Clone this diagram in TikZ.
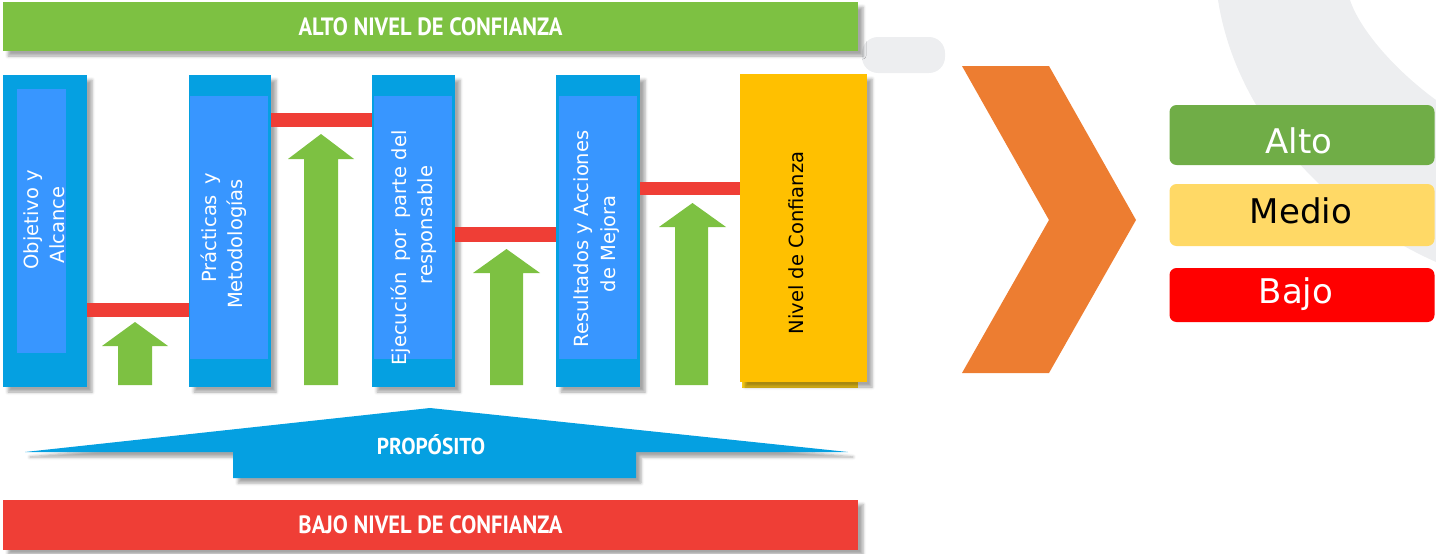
\documentclass[tikz,border=0pt]{standalone}
\usepackage{fontspec}
\setmainfont{DejaVu Sans}
\newfontfamily\bannerfont{PT Sans}
\usetikzlibrary{shadows.blur}
\definecolor{topgreen}{HTML}{7DC142}
\definecolor{barred}{HTML}{EF3E36}
\definecolor{outblue}{HTML}{05A0E1}
\definecolor{inblue}{HTML}{3896FF}
\definecolor{ygold}{HTML}{FFC000}
\definecolor{ylight}{HTML}{FFD21A}
\definecolor{chev}{HTML}{ED7D31}
\definecolor{lgreen}{HTML}{70AD47}
\definecolor{lyellow}{HTML}{FFD966}
\definecolor{lred}{HTML}{FF0000}
\definecolor{bggray}{HTML}{EDEEF0}
\tikzset{
  shad/.style={blur shadow={shadow xshift=5pt, shadow yshift=-5pt, shadow opacity=35, shadow blur radius=3pt}},
  banner/.style={inner sep=0pt, minimum width=855pt, minimum height=49pt, shad,
     text=white, font=\bannerfont\bfseries\fontsize{25}{25}\selectfont},
  outbox/.style={fill=outblue, inner sep=0pt, minimum height=312pt, shad},
  inbox/.style={fill=inblue, inner sep=0pt},
  lbl/.style={rotate=90, text=white, inner sep=0pt, font=\fontsize{19.5}{25}\selectfont},
  redbar/.style={draw=barred, line width=14pt},
  garrowfill/.style={fill=topgreen},
  legend/.style={rounded corners=7pt, inner sep=0pt, minimum width=265pt},
  legtext/.style={anchor=base, inner sep=0pt, font=\fontsize{34}{34}\selectfont}
}
\begin{document}
\begin{tikzpicture}[x=1pt,y=-1pt]
\useasboundingbox (0,0) rectangle (1436,554);
% faint background shapes
\fill[bggray] (1218,0) .. controls (1235,110) and (1320,210) .. (1436,262) -- (1436,100) .. controls (1395,70) and (1360,30) .. (1350,0) -- cycle;
\fill[bggray, rounded corners=16pt] (862,37) rectangle (945,73);
% banners
\node[banner, fill=topgreen] (top) at (430.5,26.5) {\scalebox{0.9}[1]{ALTO NIVEL DE CONFIANZA}};
\node[banner, fill=barred, minimum height=50pt] (bottom) at (430.5,524.5) {\scalebox{0.9}[1]{BAJO NIVEL DE CONFIANZA}};
% columns
\node[outbox, minimum width=84pt] (c1) at (45,231) {};
\node[inbox, minimum width=49pt, minimum height=264pt] (i1) at (41.5,221) {};
\node[outbox, minimum width=82pt] (c2) at (230,231) {};
\node[inbox, minimum width=78pt, minimum height=263pt] (i2) at (229,227.5) {};
\node[outbox, minimum width=83pt] (c3) at (413.5,231) {};
\node[inbox, minimum width=78pt, minimum height=263pt] (i3) at (413,227.5) {};
\node[outbox, minimum width=84pt] (c4) at (598,231) {};
\node[inbox, minimum width=78pt, minimum height=263pt] (i4) at (598,227.5) {};
\fill[ylight] (742,380) rectangle (858,388);
\node[fill=ygold, inner sep=0pt, minimum width=127pt, minimum height=308pt, shad] (c5) at (803.5,228) {};
% labels
\node[lbl] (l1a) at (33,220) {Objetivo y};
\node[lbl] (l1b) at (57,225) {Alcance};
\node[lbl] (l2a) at (211,228) {Prácticas\hspace{4pt} y};
\node[lbl] (l2b) at (237,244) {Metodologías};
\node[lbl] (l3a) at (401,248) {Ejecución\hspace{4.5pt} por\hspace{4.5pt} parte del};
\node[lbl] (l3b) at (427,225) {responsable};
\node[lbl] (l4a) at (583,239) {Resultados y Acciones};
\node[lbl] (l4b) at (610,244) {de Mejora};
\node[lbl, text=black] (l5) at (796,243) {Nivel de Confianza};
% red connectors
\coordinate (r1) at (0,310);
\coordinate (r2) at (0,120);
\coordinate (r3) at (0,234.5);
\coordinate (r4) at (0,188.5);
\draw[redbar] (c1.east |- r1) -- (c2.west |- r1);
\draw[redbar] (c2.east |- r2) -- (c3.west |- r2);
\draw[redbar, line width=15pt] (c3.east |- r3) -- (c4.west |- r3);
\draw[redbar, line width=13pt] (c4.east |- r4) -- (c5.west |- r4);
% green arrows
\fill[garrowfill] (118,385) -- (118,346) -- (102,346) -- (135,322) -- (168,346) -- (152,346) -- (152,385) -- cycle;
\fill[garrowfill] (304,385) -- (304,159) -- (288,159) -- (321,134) -- (354,159) -- (338,159) -- (338,385) -- cycle;
\fill[garrowfill] (490,385) -- (490,273) -- (473,273) -- (506.5,249) -- (540,273) -- (523,273) -- (523,385) -- cycle;
\fill[garrowfill] (675,385) -- (675,227) -- (659,227) -- (692.5,203) -- (726,227) -- (708,227) -- (708,385) -- cycle;
% proposito
\fill[outblue, shad] (25,452) -- (430,408) -- (848,452) -- (636,452) -- (636,478) -- (233,478) -- (233,452) -- cycle;
\node[text=white, inner sep=0pt, font=\bannerfont\bfseries\fontsize{23}{23}\selectfont] (prop) at (431,445) {\scalebox{0.93}[1]{PROPÓSITO}};
% chevron
\fill[chev] (962,66) -- (1049,66) -- (1136,220) -- (1049,373) -- (962,373) -- (1049,220) -- cycle;
% legend
\node[legend, fill=lgreen, minimum height=60pt] (alto) at (1302,135) {};
\node[legend, fill=lyellow, minimum height=62pt] (medio) at (1302,215) {};
\node[legend, fill=lred, minimum height=54pt] (bajo) at (1302,295) {};
\node[legtext, text=white] (talto) at (1299,153) {Alto};
\node[legtext, text=black] (tmedio) at (1301,223) {Medio};
\node[legtext, text=white] (tbajo) at (1296,303) {Bajo};
\end{tikzpicture}
\end{document}
